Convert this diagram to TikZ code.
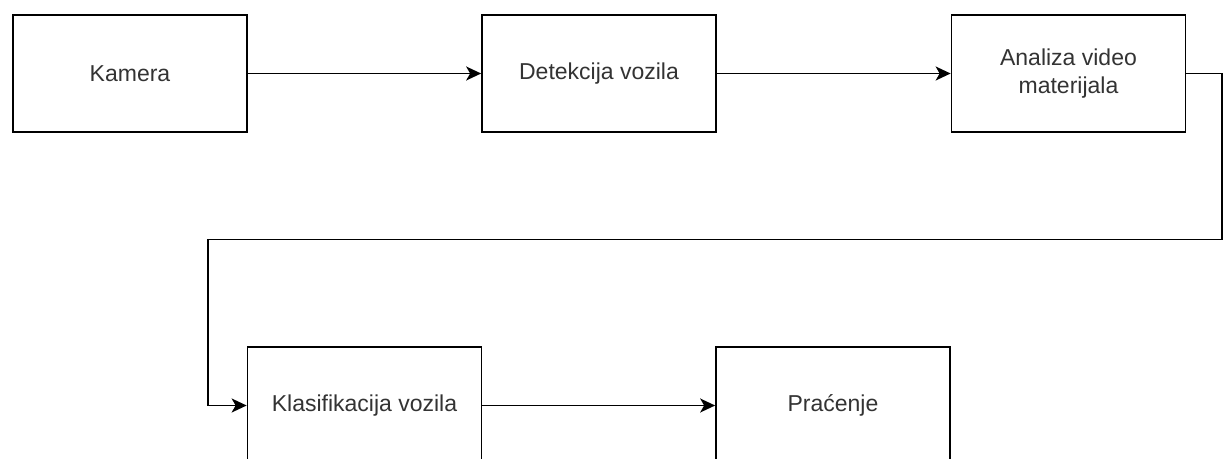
\documentclass[tikz,border=0pt]{standalone}
\usepackage{fontspec}
\setmainfont{Liberation Sans}
\usetikzlibrary{arrows.meta}
\definecolor{labelgray}{HTML}{333333}
\tikzset{
  stage/.style={draw=black, line width=1.7pt, fill=white, minimum width=234pt,
    minimum height=117pt, inner sep=0pt, align=center, text=labelgray,
    font=\fontsize{23}{28}\selectfont},
  flow/.style={draw=black, line width=1.7pt, -{Stealth[length=15pt,width=14pt,inset=4pt]}}
}
\begin{document}
\begin{tikzpicture}[x=1pt,y=1pt]
  \useasboundingbox (0,0) rectangle (1224,458);
  \clip (0,0) rectangle (1224,458);
  \fill[white] (0,0) rectangle (1224,458);

  % top row
  \node[stage] (kam) at (130,384.5) {Kamera};
  \node[stage] (det) at (599,384.5) {Detekcija vozila};
  \node[stage] (ana) at (1068.5,384.5) {Analiza video\\materijala};

  % bottom row
  \node[stage] (kla) at (364.5,52.5) {Klasifikacija vozila};
  \node[stage] (pra) at (833,52.5) {Praćenje};

  % bends of the return connector
  \coordinate (r1) at (1222,384.5);
  \coordinate (r2) at (1222,218.5);
  \coordinate (r3) at (208,218.5);
  \coordinate (r4) at (208,52.5);

  \draw[flow] (kam.east) -- (det.west);
  \draw[flow] (det.east) -- (ana.west);
  \draw[flow] (ana.east) -- (r1) -- (r2) -- (r3) -- (r4) -- (kla.west);
  \draw[flow] (kla.east) -- (pra.west);
\end{tikzpicture}
\end{document}
